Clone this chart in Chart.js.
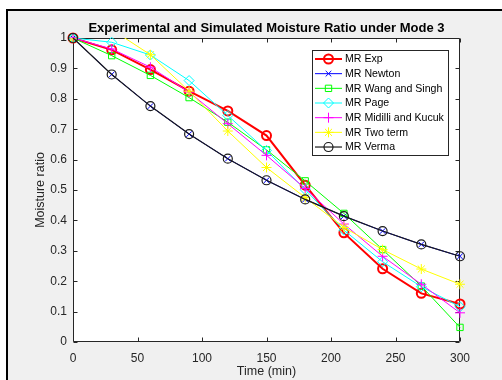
<!DOCTYPE html>
<html>
<head>
<meta charset="utf-8">
<script src="https://cdn.jsdelivr.net/npm/chart.js@4/dist/chart.umd.min.js"></script>
<style>
html,body{margin:0;padding:0;background:#fff;}
canvas{display:block;}
</style>
</head>
<body>
<canvas id="c" width="502" height="380"></canvas>
<script>
// ---- data ----
const times = [0, 30, 60, 90, 120, 150, 180, 210, 240, 270, 300];
const mrExp      = [1, 0.961, 0.896, 0.825, 0.760, 0.679, 0.516, 0.359, 0.241, 0.160, 0.125];
const mrNewton   = [1, 0.880, 0.776, 0.684, 0.603, 0.532, 0.469, 0.414, 0.365, 0.321, 0.282];
const mrWang     = [1, 0.942, 0.877, 0.804, 0.723, 0.632, 0.530, 0.423, 0.304, 0.184, 0.048];
const mrPage     = [1, 0.986, 0.944, 0.860, 0.745, 0.630, 0.501, 0.368, 0.264, 0.182, 0.116];
const mrMidilli  = [1, 0.964, 0.904, 0.822, 0.718, 0.614, 0.505, 0.388, 0.282, 0.190, 0.096];
const mrTwoTerm  = [1, 1.028, 0.945, 0.825, 0.694, 0.574, 0.475, 0.377, 0.304, 0.240, 0.190];
const mrVerma    = [1, 0.880, 0.776, 0.684, 0.603, 0.532, 0.469, 0.414, 0.365, 0.321, 0.282];
const seriesNames = ['MR Exp', 'MR Newton', 'MR Wang and Singh', 'MR Page', 'MR Midilli and Kucuk', 'MR Two term', 'MR Verma'];
const xTicks = [0, 50, 100, 150, 200, 250, 300];
const yTicks = [0, 0.1, 0.2, 0.3, 0.4, 0.5, 0.6, 0.7, 0.8, 0.9, 1];
const chartTitle = 'Experimental and Simulated Moisture Ratio under Mode 3';
const xTitle = 'Time (min)';
const yTitle = 'Moisture ratio';

// ---- styles ----
const FONT = '"Liberation Sans", Arial, Helvetica, sans-serif';
const AX = '#262626';
const styles = [
  {color: '#ff0000', style: 'circle',   radius: 4.5, width: 2},
  {color: '#0000ff', style: 'crossRot', radius: 4,   width: 1},
  {color: '#00ff00', style: 'rect',     radius: 4.5, width: 1},
  {color: '#00ffff', style: 'rectRot',  radius: 5,   width: 1},
  {color: '#ff00ff', style: 'cross',    radius: 5,   width: 1},
  {color: '#ffff00', style: 'star',     radius: 5,   width: 1},
  {color: '#1a1a1a', style: 'circle',   radius: 4.5, width: 1.2}
];
const seriesValues = [mrExp, mrNewton, mrWang, mrPage, mrMidilli, mrTwoTerm, mrVerma];

const datasets = seriesValues.map((vals, i) => ({
  label: seriesNames[i],
  data: times.map((t, j) => ({x: t, y: vals[j]})),
  borderColor: styles[i].color,
  backgroundColor: 'rgba(0,0,0,0)',
  borderWidth: styles[i].width,
  pointStyle: styles[i].style,
  pointRadius: styles[i].radius,
  pointBorderWidth: styles[i].width,
  pointBorderColor: styles[i].color,
  pointBackgroundColor: 'rgba(0,0,0,0)',
  tension: 0,
  fill: false,
  order: seriesValues.length - 1 - i,
  clip: i === 5 ? {left: 8, top: 0, right: 8, bottom: 8} : {left: 8, top: 8, right: 8, bottom: 8}
}));

function drawMarker(ctx, st, x, y) {
  ctx.save();
  ctx.strokeStyle = st.color;
  ctx.fillStyle = 'rgba(0,0,0,0)';
  ctx.lineWidth = st.width;
  if (Chart.helpers && Chart.helpers.drawPoint) {
    Chart.helpers.drawPoint(ctx, {pointStyle: st.style, radius: st.radius, borderWidth: st.width, rotation: 0}, x, y);
  } else {
    ctx.beginPath(); ctx.arc(x, y, st.radius, 0, Math.PI * 2); ctx.stroke();
  }
  ctx.restore();
}

const figurePlugin = {
  id: 'figure',
  beforeDraw(chart) {
    const ctx = chart.ctx;
    const W = chart.width, H = chart.height;
    const a = chart.chartArea;
    ctx.save();
    ctx.fillStyle = '#ffffff';
    ctx.fillRect(0, 0, W, H);
    ctx.fillStyle = '#f0f0f0';
    ctx.fillRect(8, 11, W - 8, H - 11);
    ctx.fillStyle = '#000000';
    ctx.fillRect(6, 9, W - 6, 2);
    ctx.fillRect(6, 9, 2, H - 9);
    ctx.fillStyle = '#ffffff';
    ctx.fillRect(a.left, a.top, a.right - a.left, a.bottom - a.top);
    // title
    ctx.fillStyle = '#000000';
    ctx.font = 'bold 13px ' + FONT;
    ctx.textAlign = 'center';
    ctx.textBaseline = 'middle';
    ctx.fillText(chartTitle, (a.left + a.right) / 2, 28);
    // axis titles
    ctx.fillStyle = AX;
    ctx.font = '12.5px ' + FONT;
    ctx.fillText(xTitle, (a.left + a.right) / 2, 372);
    ctx.save();
    ctx.translate(41, (a.top + a.bottom) / 2);
    ctx.rotate(-Math.PI / 2);
    ctx.fillText(yTitle, 0, 0);
    ctx.restore();
    ctx.restore();
  },
  beforeDatasetsDraw(chart) {
    const ctx = chart.ctx;
    const a = chart.chartArea;
    const xs = chart.scales.x, ys = chart.scales.y;
    ctx.save();
    ctx.strokeStyle = AX;
    ctx.lineWidth = 1;
    const L = Math.round(a.left) + 0.5, R = Math.round(a.right) - 0.5;
    const T = Math.round(a.top) + 0.5, B = Math.round(a.bottom) - 0.5;
    ctx.beginPath();
    ctx.rect(L, T, R - L, B - T);
    xTicks.forEach(v => {
      const p = Math.round(xs.getPixelForValue(v)) + 0.5;
      ctx.moveTo(p, B); ctx.lineTo(p, B - 4);
      ctx.moveTo(p, T); ctx.lineTo(p, T + 4);
    });
    yTicks.forEach(v => {
      const p = Math.round(ys.getPixelForValue(v)) + 0.5;
      ctx.moveTo(L, p); ctx.lineTo(L + 4, p);
      ctx.moveTo(R, p); ctx.lineTo(R - 4, p);
    });
    ctx.stroke();
    ctx.restore();
  },
  afterDatasetsDraw(chart) {
    const ctx = chart.ctx;
    const bx = 312, by = 50, bw = 136, bh = 105;
    ctx.save();
    ctx.fillStyle = '#ffffff';
    ctx.fillRect(bx, by, bw, bh);
    ctx.strokeStyle = AX;
    ctx.lineWidth = 1;
    ctx.strokeRect(bx + 0.5, by + 0.5, bw, bh);
    ctx.font = '10.6px ' + FONT;
    ctx.textAlign = 'left';
    ctx.textBaseline = 'middle';
    seriesNames.forEach((name, i) => {
      const y = 59 + i * 14.67;
      const st = styles[i];
      ctx.strokeStyle = st.color;
      ctx.lineWidth = st.width;
      ctx.beginPath();
      ctx.moveTo(315, y); ctx.lineTo(342, y);
      ctx.stroke();
      drawMarker(ctx, st, 328.5, y);
      ctx.fillStyle = '#000000';
      ctx.fillText(name, 345, y + 0.5);
    });
    ctx.restore();
  }
};

new Chart(document.getElementById('c'), {
  type: 'line',
  data: {datasets},
  options: {
    responsive: false,
    devicePixelRatio: 1,
    animation: false,
    events: [],
    layout: {padding: {top: 38, right: 42, left: 0, bottom: 0}},
    plugins: {legend: {display: false}, tooltip: {enabled: false}, title: {display: false}},
    scales: {
      x: {
        type: 'linear', min: 0, max: 300,
        afterBuildTicks: s => { s.ticks = xTicks.map(v => ({value: v})); },
        afterFit: s => { s.height = 38; },
        grid: {display: false, drawTicks: false, tickLength: 0}, border: {display: false},
        ticks: {color: AX, font: {family: FONT, size: 12}, padding: 9, maxRotation: 0, autoSkip: false}
      },
      y: {
        type: 'linear', min: 0, max: 1,
        afterBuildTicks: s => { s.ticks = yTicks.map(v => ({value: v})); },
        afterFit: s => { s.width = 73; },
        grid: {display: false, drawTicks: false, tickLength: 0}, border: {display: false},
        ticks: {color: AX, font: {family: FONT, size: 12}, padding: 6, autoSkip: false,
                callback: v => String(Math.round(v * 10) / 10)}
      }
    }
  },
  plugins: [figurePlugin]
});
</script>
</body>
</html>
